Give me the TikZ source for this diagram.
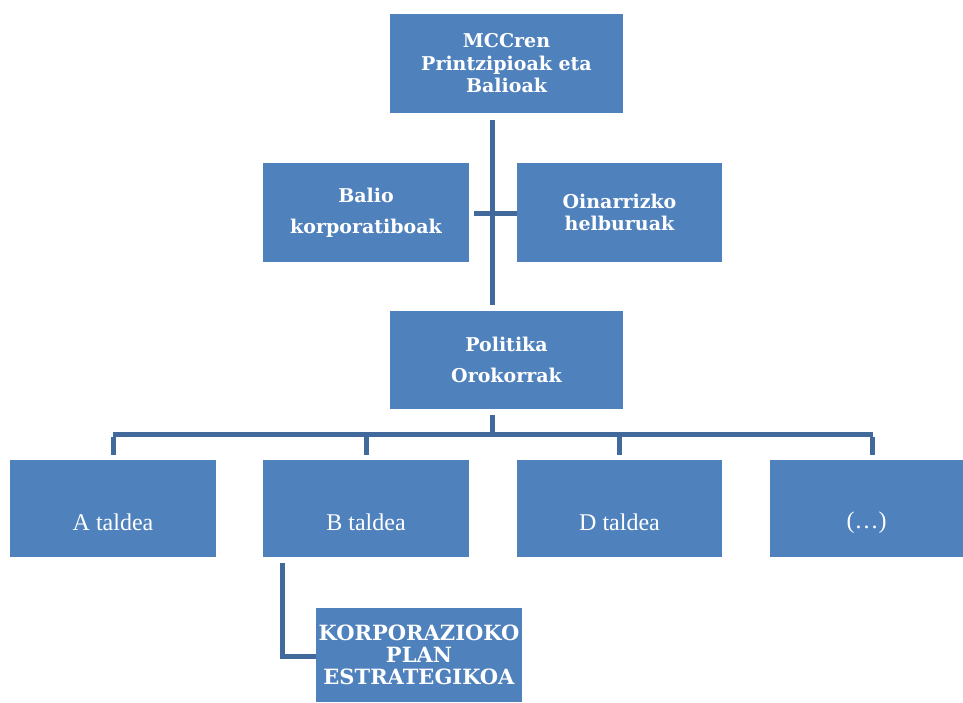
\documentclass[tikz,border=0pt]{standalone}
\usepackage{fontspec}
\setmainfont{DejaVu Serif}
\newfontfamily\grpfont{Liberation Serif}
\usetikzlibrary{calc}
\definecolor{boxblue}{HTML}{4F81BD}
\definecolor{lineblue}{HTML}{41699C}
\tikzset{
  box/.style={rectangle, fill=boxblue, draw=none, inner sep=0pt, text=white,
    align=center, font=\fontsize{19}{22.5}\selectfont\bfseries},
  widebox/.style={box, font=\fontsize{19}{31}\selectfont\bfseries},
  grpbox/.style={rectangle, fill=boxblue, draw=none, inner sep=0pt,
    minimum height=97pt},
  grptext/.style={text=white, font=\fontsize{24}{26}\grpfont},
  conn/.style={draw=lineblue, line width=5pt},
}
\begin{document}
\begin{tikzpicture}[x=1pt,y=-1pt]
\useasboundingbox (0,0) rectangle (963,702);
% boxes
\node[box, minimum width=233pt, minimum height=99pt] (top) at (506.5,63.5)
  {MCCren\\Printzipioak eta\\Balioak};
\node[widebox, minimum width=206pt, minimum height=99pt] (balio) at (366,212.5)
  {Balio\\korporatiboak};
\node[box, minimum width=205pt, minimum height=99pt] (oin) at (619.5,212.5)
  {Oinarrizko\\helburuak};
\node[widebox, minimum width=233pt, minimum height=98pt] (pol) at (506.5,360)
  {Politika\\Orokorrak};
\node[grpbox, minimum width=206pt] (A) at (113,508.5) {};
\node[grpbox, minimum width=206pt] (B) at (366,508.5) {};
\node[grpbox, minimum width=205pt] (D) at (619.5,508.5) {};
\node[grpbox, minimum width=193pt] (E) at (866.5,508.5) {};
\node[grptext] (At) at ($(A.center)+(0,14)$) {A taldea};
\node[grptext] (Bt) at ($(B.center)+(0,14)$) {B taldea};
\node[grptext] (Dt) at ($(D.center)+(0,14)$) {D taldea};
\node[grptext] (Et) at ($(E.center)+(0,14)$) {(…)};
\node[box, minimum width=206pt, minimum height=94pt,
  font=\fontsize{21}{22}\selectfont\bfseries] (K) at (419,655)
  {KORPORAZIOKO\\PLAN\\ESTRATEGIKOA};
% connectors
\coordinate (t1) at ($(top.south)+(-14,7)$);
\coordinate (t2) at ($(pol.north)+(-14,-6)$);
\draw[conn] (t1) -- (t2);
\coordinate (c1) at ($(balio.east)+(5,0.5)$);
\draw[conn] (c1) -- (oin.west |- c1);
\coordinate (p1) at ($(pol.south)+(-14,6)$);
\coordinate (hb) at ($(p1)+(0,19)$);
\draw[conn] (p1) -- (hb);
\draw[conn] (hb -| A.center) -- ($(hb -| E.center)+(6,0)$);
\draw[conn] ([yshift=-2.5pt]hb -| A.center) -- ($(A.north)+(0,-5)$);
\draw[conn] ([yshift=-2.5pt]hb -| B.center) -- ($(B.north)+(0,-5)$);
\draw[conn] ([yshift=-2.5pt]hb -| D.center) -- ($(D.north)+(0,-5)$);
\draw[conn] ($([yshift=-2.5pt]hb -| E.center)+(6,0)$) -- ($(E.north)+(6,-5)$);
\coordinate (b1) at ($(B.south west)+(20,6)$);
\coordinate (b2) at (b1 |- K.west);
\draw[conn] (b1) -- ($(b2)+(0,1)$) -- ($(K.west)+(0,1)$);
\end{tikzpicture}
\end{document}
